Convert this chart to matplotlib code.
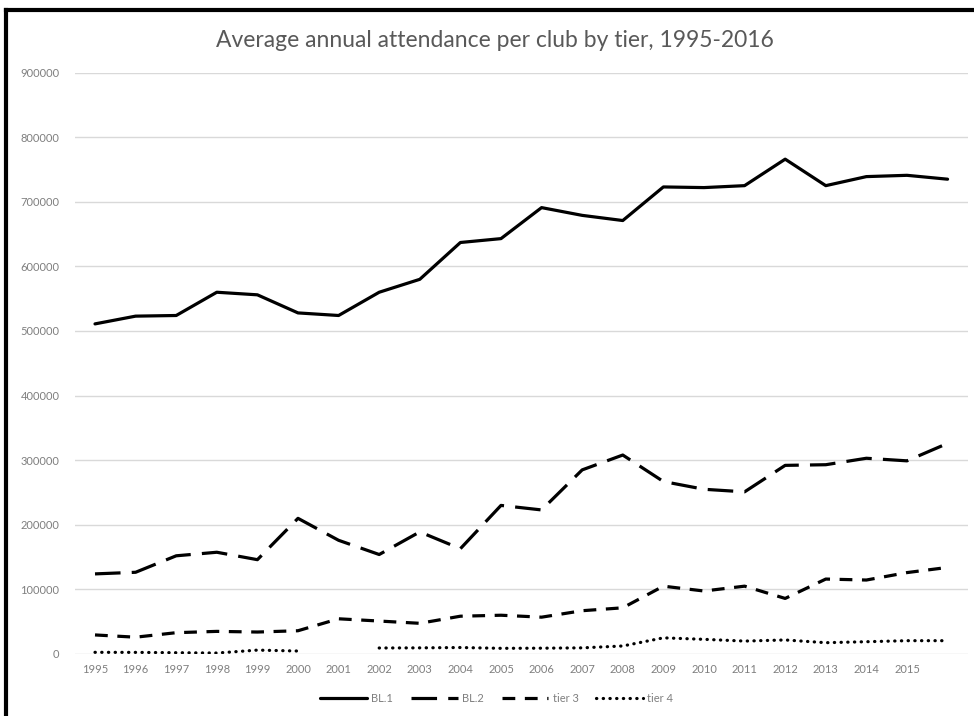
import matplotlib
matplotlib.use('agg')

import numpy as np
import matplotlib.pyplot as plt
from matplotlib.lines import Line2D

plt.rcParams['font.family'] = ['Lato', 'DejaVu Sans']

years = list(range(1995, 2017))
tick_labels = [str(y) for y in range(1995, 2016)]

bl1 = [511000, 523000, 524000, 560000, 556000, 528000, 524000, 560000, 580000, 637000, 643000,
       691000, 679000, 671000, 723000, 722000, 725000, 766000, 725000, 739000, 741000, 735000]
bl2 = [124000, 126500, 152000, 157500, 146000, 210000, 176000, 154000, 189000, 163000, 230000,
       223000, 285000, 308000, 267000, 255000, 251000, 292000, 293000, 303000, 299000, 326000]
tier3 = [29500, 26000, 33000, 35000, 34000, 36000, 54500, 51000, 47500, 58500, 60000,
         57000, 67000, 71500, 105000, 97500, 105000, 86000, 116000, 114500, 126000, 134000]
tier4 = [2600, 2500, 2000, 1500, 6000, 4600, np.nan, 9300, 9500, 10000, 8800,
         9000, 9500, 12400, 25000, 22700, 20000, 21700, 17500, 19000, 20600, 20600]

series = [("BL.1", bl1), ("BL.2", bl2), ("tier 3", tier3), ("tier 4", tier4)]
styles = {
    "BL.1": dict(linestyle='-'),
    "BL.2": dict(linestyle=(0, (8, 3.5))),
    "tier 3": dict(linestyle=(0, (4, 3))),
    "tier 4": dict(linestyle=(0, (0.1, 2)), dash_capstyle='round'),
}

fig = plt.figure(figsize=(9.74, 7.16), dpi=100)
ax = fig.add_axes([0.0767, 0.0866, 0.917, 0.812])

x = np.arange(len(years))
handles = []
for name, vals in series:
    ln, = ax.plot(x, vals, color='black', lw=2.3, solid_capstyle='round', label=name, **styles[name])
    handles.append(ln)

ax.set_xlim(-0.5, len(years) - 0.5)
ax.set_ylim(0, 900000)
ax.set_yticks(range(0, 900001, 100000))
ax.set_yticklabels([str(v) for v in range(0, 900001, 100000)])
ax.set_xticks(range(len(tick_labels)))
ax.set_xticklabels(tick_labels)

ax.grid(axis='y', color='#d9d9d9', lw=1)
ax.set_axisbelow(True)
for s in ax.spines.values():
    s.set_visible(False)
ax.tick_params(length=0, labelsize=8, labelcolor='#7f7f7f')
ax.tick_params(axis='y', pad=11)
ax.tick_params(axis='x', pad=7)

fig.text(0.508, 0.944, "Average annual attendance per club by tier, 1995-2016",
         ha='center', va='center', fontsize=16.5, color='#595959')

leg = fig.legend(handles=handles, loc='center', bbox_to_anchor=(0.51, 0.024), ncol=4,
                 frameon=False, fontsize=8, handlelength=4.2, handletextpad=0.4,
                 columnspacing=1.6)
for t in leg.get_texts():
    t.set_color('#7f7f7f')

# heavy frame along the top and left edges
fig.add_artist(Line2D([0.0062, 0.0062], [0, 0.986], color='black', lw=3, transform=fig.transFigure))
fig.add_artist(Line2D([0.0062, 1.0], [0.986, 0.986], color='black', lw=3, transform=fig.transFigure))

fig.savefig('out.png', dpi=100)
